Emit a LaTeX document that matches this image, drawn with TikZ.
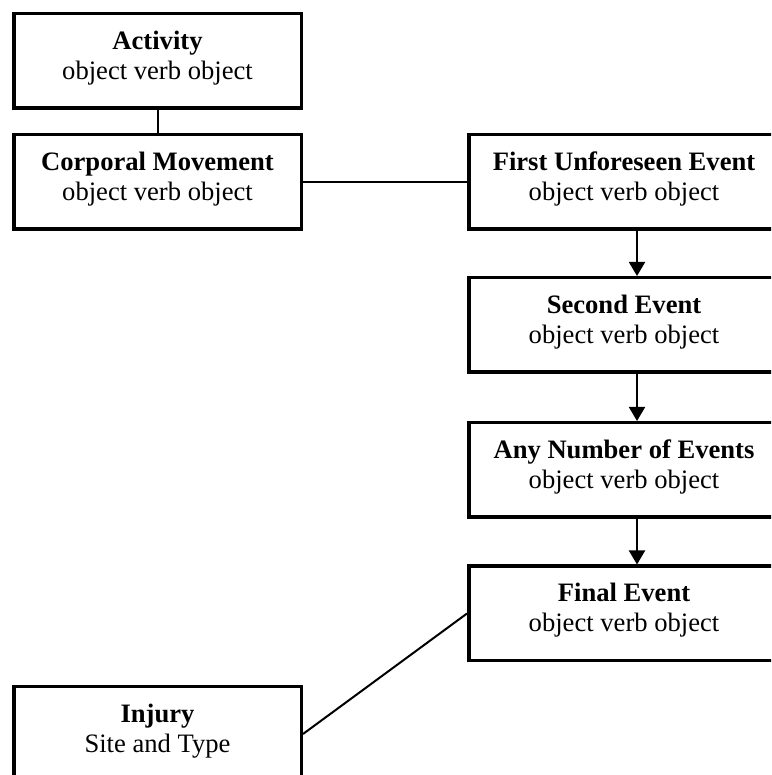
\documentclass[tikz,border=0pt]{standalone}
\usepackage{fontspec}
\setmainfont{Liberation Serif}
\usetikzlibrary{arrows.meta}
\tikzset{
  evbox/.style={draw,line width=1.75pt,align=center,inner sep=0pt,text depth=6pt,
    minimum height=47.25pt,font=\fontsize{13.3}{15}\selectfont},
  leftbox/.style={evbox,minimum width=143.75pt},
  rightbox/.style={evbox,minimum width=155.25pt},
  link/.style={line width=1pt}
}
\begin{document}
\begin{tikzpicture}[>={Triangle[width=8pt,length=7pt]},x=0.5pt,y=0.5pt]
	\useasboundingbox (0,0) rectangle (771,775);
	\clip (0,0) rectangle (771,775);
	% left column
	\node[leftbox] (activity) at (157.5,714) {\textbf{Activity}\\object verb object};
	\node[leftbox] (corporal) at (157.5,593) {\textbf{Corporal Movement}\\object verb object};
	\node[leftbox] (injury) at (157.5,41) {\textbf{Injury}\\Site and Type};
	% right column
	\node[rightbox] (first) at (624,593) {\textbf{First Unforeseen Event}\\object verb object};
	\node[rightbox] (second) at (624,450) {\textbf{Second Event}\\object verb object};
	\node[rightbox] (anynum) at (624,305) {\textbf{Any Number of Events}\\object verb object};
	\node[rightbox] (final) at (624,161.5) {\textbf{Final Event}\\object verb object};
	% connectors
	\draw[link] (activity.south) -- (corporal.north);
	\draw[link] (corporal.east) -- (first.west);
	\draw[link,->] ([xshift=6.5pt]first.south) -- ([xshift=6.5pt]second.north);
	\draw[link,->] ([xshift=6.5pt]second.south) -- ([xshift=6.5pt]anynum.north);
	\draw[link,->] ([xshift=6.5pt]anynum.south) -- ([xshift=6.5pt]final.north);
	\draw[link] (final.west) -- (injury.east);
\end{tikzpicture}
\end{document}
